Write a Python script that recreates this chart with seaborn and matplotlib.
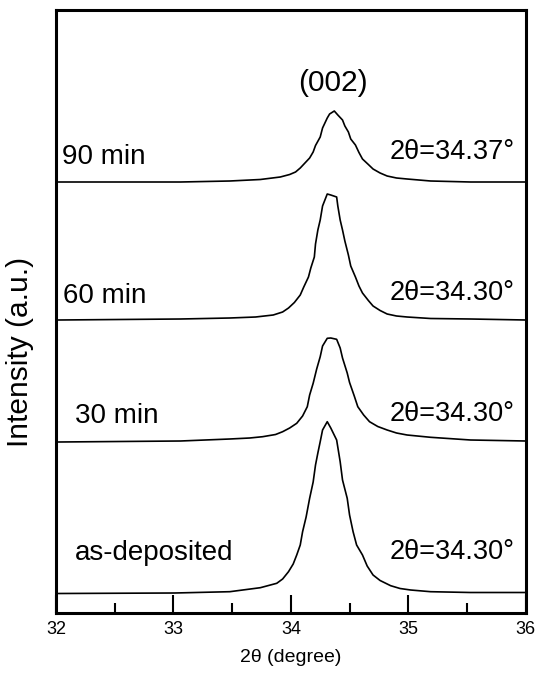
import numpy as np
import pandas as pd
import matplotlib
matplotlib.use("Agg")
import matplotlib.pyplot as plt
import seaborn as sns
from matplotlib.ticker import MultipleLocator

# ---- data (2theta in degrees, intensity in a.u. incl. offset) ----
x_90 = [32.02, 33.06, 33.48, 33.74, 33.91, 33.99, 34.04, 34.08, 34.12, 34.16, 34.19, 34.21,
        34.25, 34.27, 34.31, 34.33, 34.37, 34.40, 34.44, 34.46, 34.49, 34.51, 34.55, 34.58,
        34.61, 34.66, 34.70, 34.76, 34.82, 34.90, 34.99, 35.19, 35.53, 36.00]
y_90 = [431, 431, 432, 433.5, 436, 438.5, 441, 445, 450, 455, 461, 467.5,
        476, 485, 495, 499, 502, 498, 493, 487, 481, 474, 468, 460.5,
        454, 448.5, 444, 440, 437, 435, 434, 432, 431, 431]

x_60 = [32.02, 33.06, 33.48, 33.70, 33.85, 33.93, 33.98, 34.03, 34.08, 34.11, 34.15, 34.17,
        34.20, 34.21, 34.23, 34.25, 34.27, 34.31, 34.34, 34.39, 34.40, 34.42, 34.44, 34.46,
        34.49, 34.51, 34.55, 34.58, 34.61, 34.66, 34.70, 34.76, 34.82, 34.90, 34.99, 35.19,
        35.53, 36.00]
y_60 = [293, 294, 295, 296, 298, 301, 305, 310.5, 318, 326, 336, 345,
        356, 369, 383, 393, 407, 419, 418, 416, 407, 393, 383, 372,
        358, 347, 336, 327, 320, 312.5, 307, 302.5, 299, 297, 296, 294.5,
        294, 293]

x_30 = [32.02, 33.06, 33.48, 33.65, 33.76, 33.87, 33.93, 33.99, 34.05, 34.10, 34.14, 34.16,
        34.19, 34.22, 34.25, 34.27, 34.31, 34.34, 34.39, 34.42, 34.44, 34.48, 34.50, 34.54,
        34.57, 34.62, 34.67, 34.74, 34.82, 34.90, 34.99, 35.19, 35.53, 36.00]
y_30 = [171, 172, 174, 175, 176.3, 178.5, 181.3, 185, 189.7, 197, 206.3, 218,
        229.7, 244, 256.3, 267, 274.7, 275, 273.7, 265, 255, 240, 230.5, 217,
        206.3, 198, 191.3, 186.5, 183, 180, 178, 175.7, 173, 172]

x_as = [32.02, 33.01, 33.48, 33.74, 33.88, 33.93, 33.98, 34.02, 34.05, 34.08, 34.10, 34.13,
        34.16, 34.19, 34.21, 34.23, 34.25, 34.27, 34.31, 34.34, 34.39, 34.42, 34.44, 34.48,
        34.50, 34.53, 34.56, 34.61, 34.65, 34.70, 34.76, 34.85, 34.93, 35.02, 35.19, 35.53,
        36.00]
y_as = [19.5, 20, 21.3, 25.3, 29.7, 34, 41.3, 49, 58, 68, 81.3, 96,
        114.7, 131, 148, 160, 171.3, 183, 191.3, 185, 173, 151.3, 133, 114.7,
        98, 81.3, 68, 58, 47, 38, 32.5, 27.3, 24.5, 23, 21.3, 20.5,
        20.5]

sample_labels = ["90 min", "60 min", "30 min", "as-deposited"]
peak_labels = ["2θ=34.37°", "2θ=34.30°", "2θ=34.30°", "2θ=34.30°"]
x_ticks = [32, 33, 34, 35, 36]

frames = []
for name, xs, ys in zip(sample_labels, [x_90, x_60, x_30, x_as], [y_90, y_60, y_30, y_as]):
    frames.append(pd.DataFrame({"two_theta": xs, "intensity": ys, "sample": name}))
df = pd.concat(frames, ignore_index=True)

sns.set_theme(style="white")
plt.rcParams['font.family'] = ['Liberation Sans', 'DejaVu Sans']

W, H = 546, 674
fig = plt.figure(figsize=(W / 100, H / 100), dpi=100)
ax = fig.add_axes([56 / W, 1 - 613 / H, (525.7 - 56) / W, (613 - 10) / H])

sns.lineplot(data=df, x="two_theta", y="intensity", units="sample", estimator=None,
             sort=False, color="black", lw=1.2, ax=ax, legend=False)
for ln in ax.get_lines():
    ln.set_solid_joinstyle("round")

ax.set_xlim(32, 36)
ax.set_ylim(0, 603)
ax.set_xticks(x_ticks)
ax.set_xticklabels([str(t) for t in x_ticks])
ax.xaxis.set_minor_locator(MultipleLocator(0.5))
ax.set_yticks([])
ax.tick_params(axis="x", which="major", direction="in", length=13, width=1.5,
               color="black", labelsize=13, pad=6, labelcolor="black", bottom=True)
ax.tick_params(axis="x", which="minor", direction="in", length=7, width=1.5,
               color="black", bottom=True)
for s in ax.spines.values():
    s.set_color("black")
    s.set_linewidth(2.2)
ax.set_xlabel("")
ax.set_ylabel("")

def px(xp):
    return 32 + (xp - 56) / 117.4

def py(yp):
    return 613 - yp

fs = 20
label_pos = [(62, 157), (63, 296), (75, 416), (75, 553)]
peak_pos = [152, 293, 414, 552]
for lab, (lx, ly) in zip(sample_labels, label_pos):
    ax.text(px(lx), py(ly), lab, fontsize=fs, ha="left", va="center", color="black")
for lab, ly in zip(peak_labels, peak_pos):
    ax.text(px(515), py(ly), lab, fontsize=fs - 0.5, ha="right", va="center", color="black")
ax.text(px(333), py(83), "(002)", fontsize=21.5, ha="center", va="center", color="black")

fig.text(20 / W, 1 - 352 / H, "Intensity (a.u.)", rotation=90, fontsize=21.5,
         ha="center", va="center", color="black")
fig.text(291 / W, 1 - 657 / H, "2θ (degree)", fontsize=14, ha="center", va="center",
         color="black")

fig.savefig("out.png", dpi=100)
